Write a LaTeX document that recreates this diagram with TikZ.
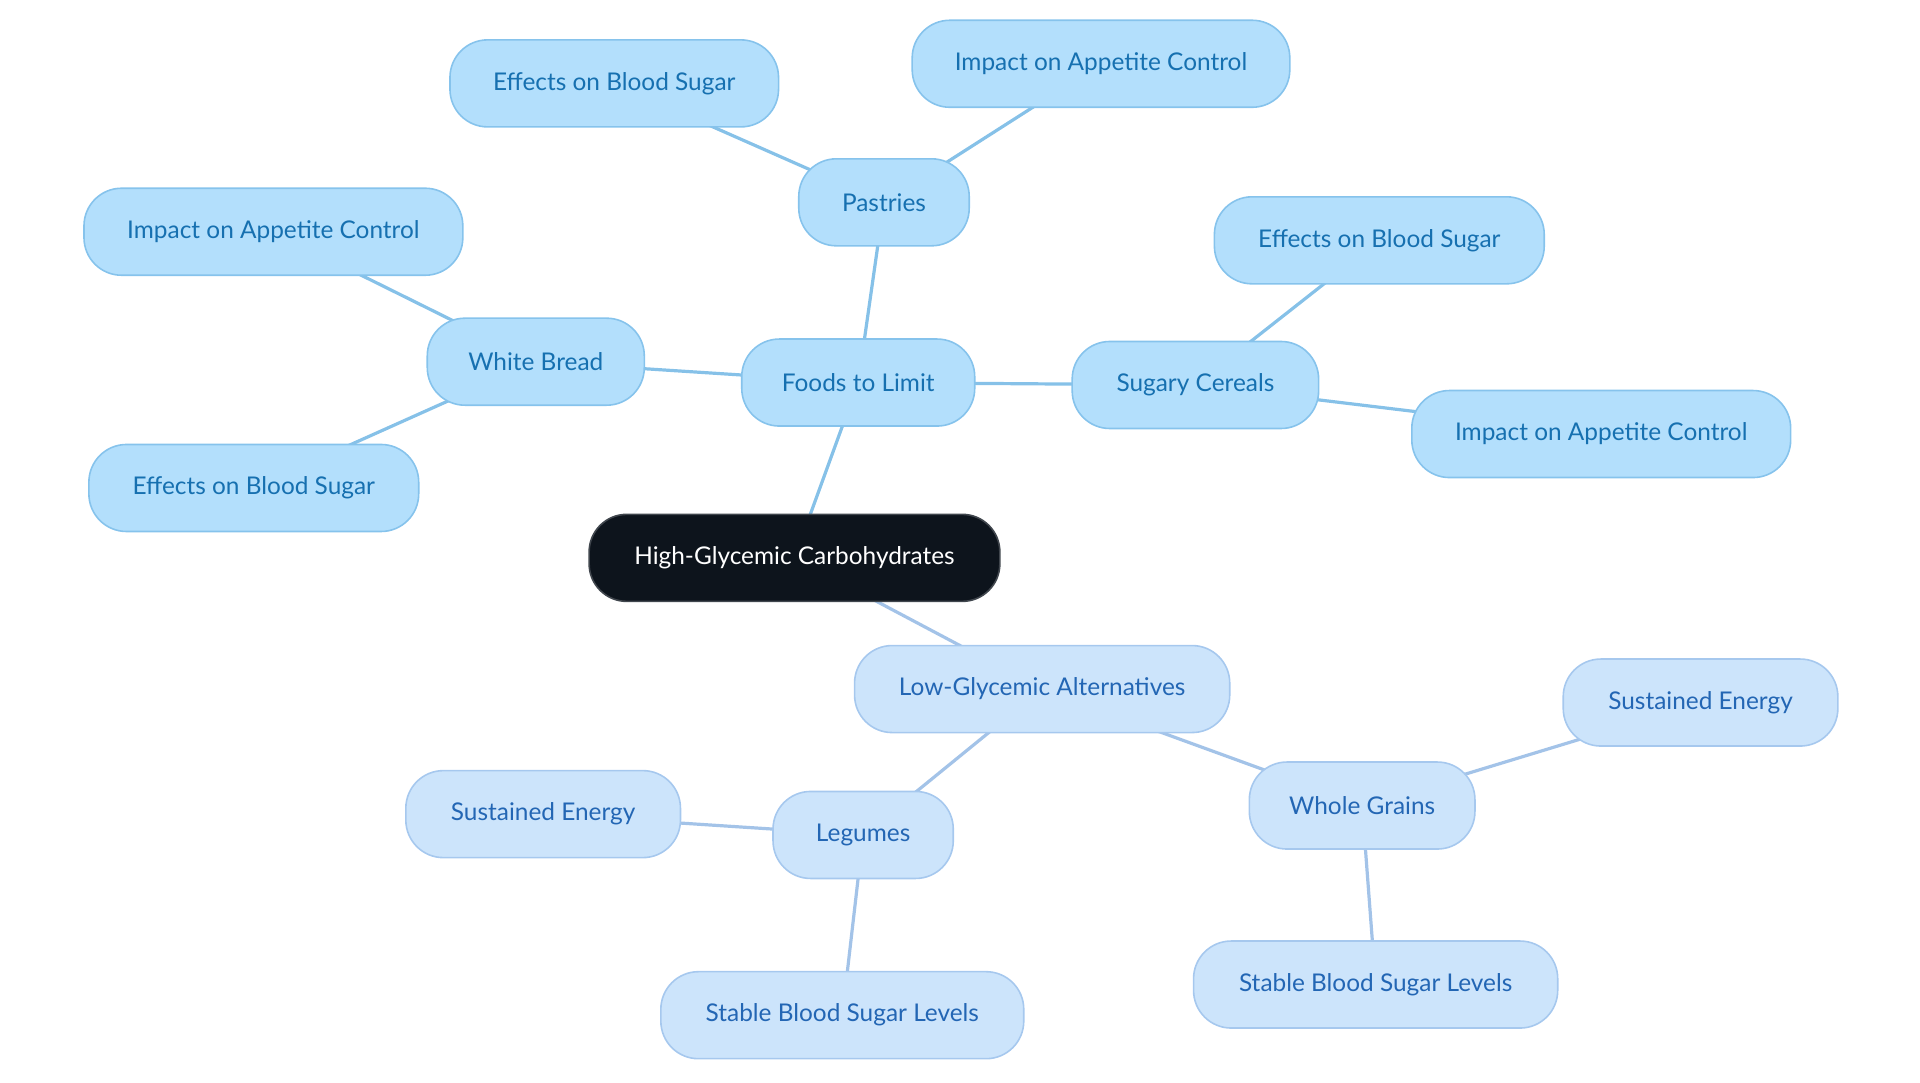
\documentclass[tikz,border=0pt]{standalone}
\usepackage{fontspec}
\setmainfont{Lato}
\usetikzlibrary{backgrounds}
\definecolor{limfill}{HTML}{B3DFFC}
\definecolor{limdraw}{HTML}{86C3EC}
\definecolor{limtext}{HTML}{1670B0}
\definecolor{limedge}{HTML}{86C1E8}
\definecolor{altfill}{HTML}{CCE4FB}
\definecolor{altdraw}{HTML}{A6C8EE}
\definecolor{alttext}{HTML}{2366B4}
\definecolor{altedge}{HTML}{A3C3E8}
\definecolor{rootfill}{HTML}{0D141C}
\definecolor{rootdraw}{HTML}{40464D}
\newlength{\ux}
\setlength{\ux}{0.613pt}
\tikzset{
  box/.style={rounded corners=18.8pt, minimum height=43.5pt, inner sep=0pt,
    font=\fontsize{12.2pt}{14pt}\selectfont, line width=0.8pt},
  lim/.style={box, fill=limfill, draw=limdraw, text=limtext},
  alt/.style={box, fill=altfill, draw=altdraw, text=alttext},
  rootbox/.style={box, fill=rootfill, draw=rootdraw, text=white},
  limline/.style={draw=limedge, line width=1.6pt},
  altline/.style={draw=altedge, line width=1.6pt},
}
\begin{document}
\begin{tikzpicture}[x=\ux, y=-\ux]
\useasboundingbox (0,0) rectangle (1566,883.3);
\node[rootbox, minimum width=335\ux] (root) at (648,455) {High-Glycemic Carbohydrates};
\node[lim, minimum width=190\ux] (foods) at (700,312) {Foods to Limit};
\node[lim, minimum width=139\ux] (pastries) at (721,165) {Pastries};
\node[lim, minimum width=268\ux] (pebs) at (501,68) {Effects on Blood Sugar};
\node[lim, minimum width=308\ux] (piac) at (898,52) {Impact on Appetite Control};
\node[lim, minimum width=177\ux] (bread) at (437,295) {White Bread};
\node[lim, minimum width=309\ux] (biac) at (223,189) {Impact on Appetite Control};
\node[lim, minimum width=269\ux] (bebs) at (207,398) {Effects on Blood Sugar};
\node[lim, minimum width=201\ux] (cereal) at (975,314) {Sugary Cereals};
\node[lim, minimum width=269\ux] (cebs) at (1125,196) {Effects on Blood Sugar};
\node[lim, minimum width=309\ux] (ciac) at (1306,354) {Impact on Appetite Control};
\node[alt, minimum width=306\ux] (low) at (850,562) {Low-Glycemic Alternatives};
\node[alt, minimum width=147\ux] (legumes) at (704,681) {Legumes};
\node[alt, minimum width=224\ux] (lse) at (443,664) {Sustained Energy};
\node[alt, minimum width=296\ux] (lsb) at (687,828) {Stable Blood Sugar Levels};
\node[alt, minimum width=184\ux] (grains) at (1111,657) {Whole Grains};
\node[alt, minimum width=224\ux] (gse) at (1387,573) {Sustained Energy};
\node[alt, minimum width=297\ux] (gsb) at (1122,803) {Stable Blood Sugar Levels};
\begin{pgfonlayer}{background}
\draw[limline] (root.center) -- (foods.center);
\draw[limline] (foods.center) -- (pastries.center);
\draw[limline] (pastries.center) -- (pebs.center);
\draw[limline] (pastries.center) -- (piac.center);
\draw[limline] (foods.center) -- (bread.center);
\draw[limline] (bread.center) -- (biac.center);
\draw[limline] (bread.center) -- (bebs.center);
\draw[limline] (foods.center) -- (cereal.center);
\draw[limline] (cereal.center) -- (cebs.center);
\draw[limline] (cereal.center) -- (ciac.center);
\draw[altline] (root.center) -- (low.center);
\draw[altline] (low.center) -- (legumes.center);
\draw[altline] (legumes.center) -- (lse.center);
\draw[altline] (legumes.center) -- (lsb.center);
\draw[altline] (low.center) -- (grains.center);
\draw[altline] (grains.center) -- (gse.center);
\draw[altline] (grains.center) -- (gsb.center);
\end{pgfonlayer}
\end{tikzpicture}
\end{document}
